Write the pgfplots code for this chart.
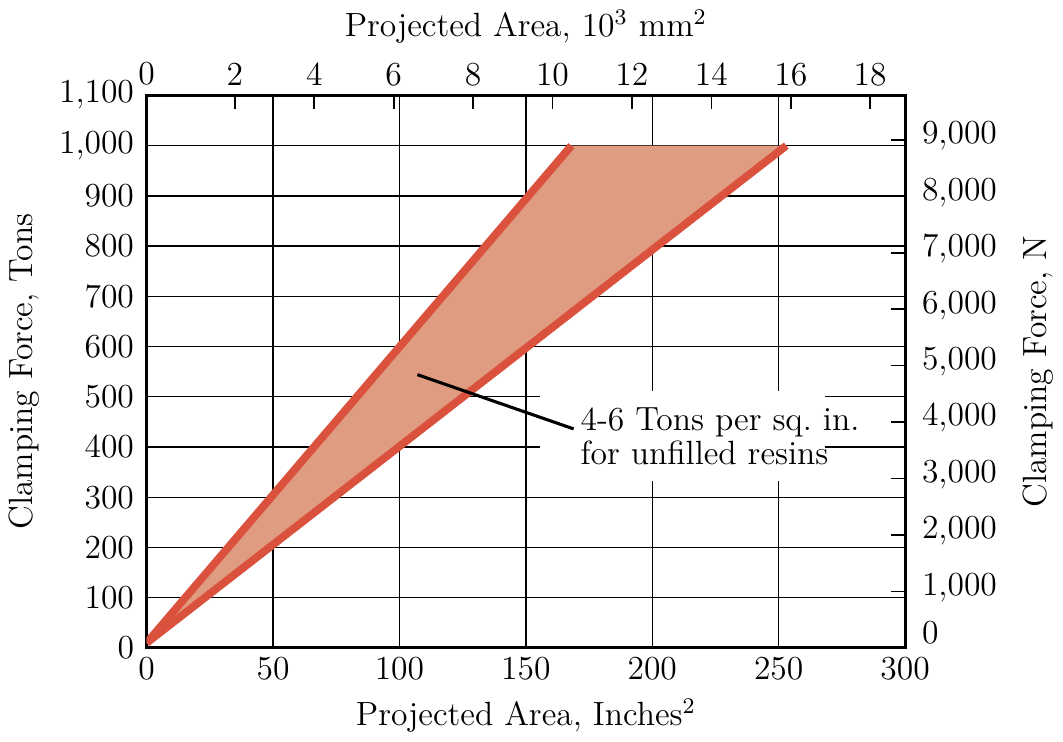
\documentclass[border=0pt]{standalone}
\usepackage{pgfplots}
\pgfplotsset{compat=1.18}
\definecolor{fillc}{RGB}{223,156,128}
\definecolor{linec}{RGB}{218,82,62}
\begin{document}
\begin{tikzpicture}
\pgfplotsset{
  every tick label/.append style={font=\large},
  every axis label/.append style={font=\large},
}
\begin{axis}[
  scale only axis, width=271pt, height=197.4pt,
  xmin=0, xmax=300, ymin=0, ymax=1100,
  xtick={0,50,...,300}, ytick={0,100,...,1100},
  xtick pos=bottom, ytick pos=left,
  major tick length=0pt,
  grid=major, major grid style={black, line width=0.5pt},
  axis line style={line width=1pt},
  /pgf/number format/1000 sep={\mathord{,}},
  scaled ticks=false,
  yticklabel style={xshift=-1pt},
  xlabel={Projected Area, Inches\textsuperscript{2}},
  ylabel={Clamping Force, Tons},
]
\addplot[draw=none, fill=fillc] coordinates {(0,10) (168,1000) (253,1000)} -- cycle;
\addplot[linec, line width=2.8pt] coordinates {(0,10) (168,1000)};
\addplot[linec, line width=2.8pt] coordinates {(0,10) (253,1000)};
\fill[white] (axis cs:155.5,333) rectangle (axis cs:268.3,512);
\draw[line width=1.1pt] (axis cs:107.1,544) -- (axis cs:168.9,436);
\node[anchor=west, align=left, inner sep=0pt, font=\fontsize{12}{12.2}\selectfont] at (axis cs:171.4,422) {4-6 Tons per sq.\ in.\\for unfilled resins};
\end{axis}
\begin{axis}[
  scale only axis, width=271pt, height=197.4pt,
  xmin=-0.22, xmax=18.88, ymin=0, ymax=9786,
  axis x line*=top, axis y line*=right,
  axis line style={line width=1pt},
  xtick={2,4,...,18}, ytick={1000,2000,...,9000},
  extra x ticks={-0.22}, extra x tick labels={0}, extra x tick style={major tick length=0pt},
  extra y ticks={213}, extra y tick labels={0}, extra y tick style={major tick length=0pt},
  major tick length=5pt, tick align=inside,
  tick style={black, line width=0.6pt},
  yticklabel style={xshift=2.5pt, yshift=1.3pt},
  ylabel style={yshift=-2.5pt},
  /pgf/number format/1000 sep={\mathord{,}},
  scaled ticks=false,
  xlabel={Projected Area, 10\textsuperscript{3} mm\textsuperscript{2}},
  ylabel={Clamping Force, N},
]
\end{axis}
\end{tikzpicture}
\end{document}
